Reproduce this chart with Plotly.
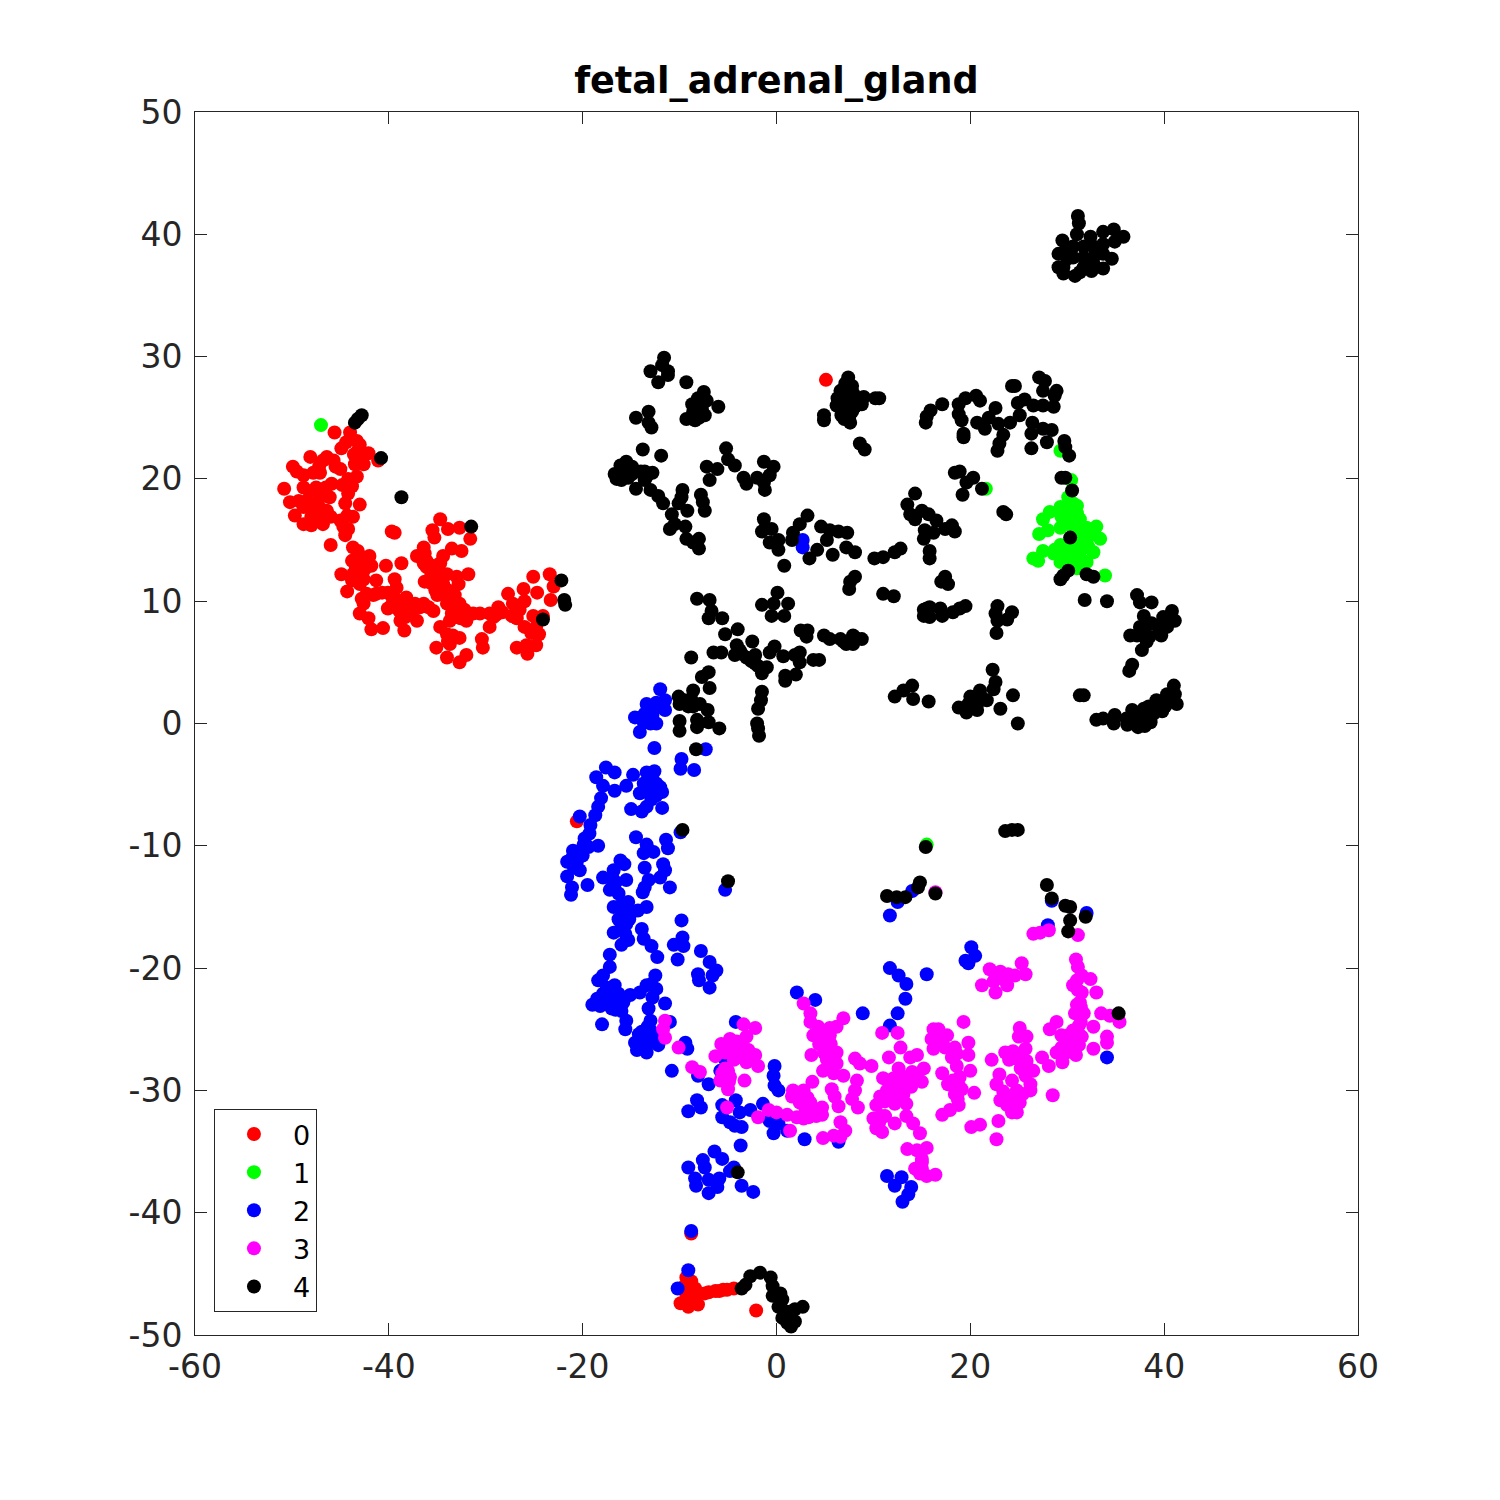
import plotly.graph_objects as go

title = "fetal_adrenal_gland"
x_ticks = [-60, -40, -20, 0, 20, 40, 60]
y_ticks = [-50, -40, -30, -20, -10, 0, 10, 20, 30, 40, 50]
cluster_names = ["0", "1", "2", "3", "4"]
cluster_colors = ["#ff0000", "#00ff00", "#0000ff", "#ff00ff", "#000000"]

cluster_0 = [
    (-50.8, 19.2), (-50.2, 18.1), (-49.9, 21.0), (-49.7, 17.0), (-48.8, 16.3), (-48.0, 16.2), (-46.8, 16.3),
    (-48.1, 21.8), (-46.4, 21.8), (-45.7, 21.5), (-48.8, 20.3), (-48.8, 19.3), (-48.5, 18.2), (-47.8, 17.4),
    (-46.4, 17.4), (-47.1, 18.5), (-47.5, 19.3), (-47.1, 20.5), (-45.9, 19.6), (-46.1, 18.5), (-48.8, 17.7),
    (-45.0, 20.8), (-44.2, 20.0), (-43.3, 20.2), (-44.2, 18.8), (-44.5, 18.0), (-43.0, 17.9), (-43.7, 16.9),
    (-45.0, 16.6), (-44.2, 15.9), (-44.5, 15.4), (-46.0, 14.6), (-45.6, 23.8), (-44.0, 23.8), (-43.3, 23.1),
    (-44.9, 22.5), (-43.2, 22.3), (-42.1, 22.1), (-42.6, 21.2), (-43.5, 21.2), (-41.1, 21.5), (-39.7, 15.7),
    (-39.4, 15.6), (-34.7, 16.7), (-35.5, 15.8), (-35.3, 15.2), (-33.9, 15.9), (-32.7, 16.0), (-31.6, 15.1),
    (-32.5, 14.1), (-33.5, 14.3), (-34.4, 13.7), (-36.4, 14.4), (-37.1, 13.7), (-36.3, 13.9), (-36.4, 13.1),
    (-34.7, 13.1), (-38.7, 13.1), (-43.7, 14.4), (-43.0, 13.7), (-42.0, 13.7), (-43.8, 13.3), (-42.6, 13.1),
    (-41.8, 12.9), (-44.9, 12.2), (-43.7, 12.2), (-43.0, 12.0), (-43.0, 11.4), (-43.8, 11.7), (-41.3, 11.7),
    (-44.3, 10.8), (-40.3, 12.9), (-39.4, 11.8), (-39.2, 11.1), (-42.3, 10.6), (-41.3, 10.6), (-40.1, 10.7),
    (-42.6, 9.8), (-43.0, 9.0), (-42.1, 8.6), (-41.8, 7.7), (-40.6, 7.8), (-40.1, 9.4), (-38.9, 9.2),
    (-39.2, 10.1), (-38.2, 10.3), (-37.8, 9.5), (-38.3, 8.7), (-37.1, 8.4), (-38.4, 7.6), (-36.4, 9.8),
    (-35.4, 9.2), (-36.1, 12.8), (-35.6, 12.2), (-36.3, 11.6), (-35.1, 11.7), (-35.2, 10.9), (-34.4, 11.4),
    (-34.0, 12.2), (-33.0, 12.0), (-31.8, 12.2), (-32.8, 11.4), (-33.2, 10.5), (-34.0, 9.8), (-33.5, 9.0),
    (-33.7, 8.4), (-32.7, 9.8), (-32.0, 8.4), (-31.3, 9.0), (-30.6, 9.0), (-29.6, 9.0), (-28.7, 9.5),
    (-27.7, 10.6), (-27.2, 9.8), (-27.3, 8.8), (-29.2, 8.7), (-29.6, 7.9), (-30.4, 6.9), (-30.3, 6.2),
    (-26.0, 10.0), (-26.1, 11.0), (-25.1, 12.0), (-24.7, 10.7), (-23.4, 12.2), (-23.0, 11.2), (-23.3, 10.1),
    (-25.1, 8.8), (-24.1, 8.8), (-26.0, 7.9), (-24.8, 7.9), (-24.8, 6.4), (-25.8, 6.4), (-26.8, 6.2),
    (-25.7, 5.7), (-34.7, 7.9), (-34.0, 7.3), (-32.7, 7.0), (-33.7, 6.5), (-35.1, 6.2), (-34.0, 5.4),
    (-32.7, 5.0), (-32.0, 5.6), (-20.6, -8.0), (-8.8, -41.7), (-9.3, -45.3), (-8.8, -45.6), (-9.5, -46.0),
    (-8.4, -46.2), (-9.3, -46.7), (-8.4, -46.8), (-9.9, -47.4), (-9.1, -47.7), (-8.1, -47.5), (-8.6, -47.2),
    (-7.4, -46.6), (-7.0, -46.5), (-6.3, -46.4), (-5.9, -46.4), (-5.5, -46.3), (-5.1, -46.3), (-4.4, -46.2),
    (-2.1, -48.0), (5.1, 28.1),
    (-47.8, 20.5), (-48.2, 19.0), (-47.6, 18.0), (-46.9, 17.5), (-46.5, 19.3), (-47.2, 21.0), (-49.3, 18.2),
    (-48.0, 16.9), (-47.2, 16.6), (-46.0, 16.9), (-45.5, 21.0), (-46.8, 21.5), (-49.5, 20.6), (-44.3, 17.0),
    (-44.8, 19.5), (-43.8, 19.4), (-44.7, 16.1), (-43.6, 22.0), (-43.0, 22.8), (-44.4, 23.0), (-42.8, 21.8),
    (-43.0, 13.0), (-42.5, 12.6), (-43.4, 12.7), (-42.3, 13.4), (-43.2, 14.1), (-42.6, 11.8), (-41.6, 10.5),
    (-40.7, 10.7), (-39.7, 10.4), (-42.8, 10.2), (-39.7, 9.7), (-38.7, 9.8), (-38.8, 8.4), (-37.6, 9.2),
    (-37.3, 9.8), (-35.9, 9.5), (-36.8, 9.5), (-34.9, 11.2), (-35.7, 11.5), (-33.9, 10.9), (-33.7, 10.2),
    (-33.3, 9.4), (-32.2, 9.3), (-32.6, 8.6), (-28.9, 8.9), (-28.3, 9.1), (-26.5, 9.3), (-26.8, 8.6),
    (-25.3, 7.4), (-24.5, 7.3), (-33.4, 7.2), (-33.9, 6.7), (-36.1, 13.3), (-35.5, 12.9), (-34.8, 12.5),
    (-35.0, 10.5),
]

cluster_1 = [
    (-47.0, 24.4), (26.5, 13.5), (27.0, 13.3), (27.5, 14.1), (28.7, 14.2), (27.1, 15.5), (28.0, 15.8),
    (27.5, 16.7), (28.2, 17.3), (29.3, 17.7), (31.0, 17.8), (30.1, 18.5), (29.4, 16.9), (30.6, 16.9),
    (31.3, 16.7), (33.0, 16.1), (29.3, 16.0), (31.3, 15.8), (32.7, 15.5), (33.4, 15.1), (32.0, 14.8),
    (31.3, 14.7), (29.3, 14.6), (32.7, 14.0), (31.3, 13.6), (32.0, 13.2), (29.3, 13.2), (30.3, 13.3),
    (31.0, 12.7), (33.9, 12.1), (29.3, 22.3), (30.4, 19.9), (21.6, 19.2), (15.5, -9.9), (30.3, 16.2),
    (30.8, 15.2), (30.3, 14.2), (32.0, 16.0),
    (30.5, 17.3), (31.0, 17.2), (29.8, 17.0), (30.2, 16.5), (31.0, 16.3), (31.8, 15.8), (31.0, 15.4),
    (32.0, 15.2), (31.5, 15.2), (31.6, 14.3), (32.2, 14.4), (30.8, 14.4), (30.4, 13.6), (28.6, 13.9),
    (29.6, 13.6), (30.6, 18.0), (30.4, 17.8),
]

cluster_2 = [
    (-12.0, 2.8), (-13.4, 1.6), (-12.4, 1.7), (-11.5, 1.9), (-11.5, 1.1), (-12.7, 1.1), (-13.6, 0.8),
    (-14.6, 0.5), (-13.7, 0.1), (-12.4, 0.0), (-14.1, -0.7), (-13.0, 0.0), (-12.6, -2.0), (-9.8, -2.9),
    (-9.9, -3.7), (-8.5, -3.8), (-7.3, -2.1), (-17.6, -3.6), (-18.6, -4.4), (-16.7, -4.0), (-17.9, -5.1),
    (-16.7, -5.5), (-15.5, -5.1), (-14.8, -4.2), (-13.4, -4.0), (-12.6, -3.9), (-12.4, -4.9), (-13.7, -4.9),
    (-13.1, -5.7), (-11.8, -5.6), (-14.1, -5.7), (-15.0, -7.0), (-13.9, -7.2), (-13.4, -6.8), (-11.8, -6.9),
    (-18.1, -6.1), (-18.4, -6.8), (-18.7, -7.5), (-19.2, -8.3), (-19.3, -9.0), (-19.8, -9.4), (-20.3, -7.6),
    (-18.4, -10.0), (-19.4, -10.1), (-21.0, -10.4), (-20.0, -10.8), (-21.6, -11.3), (-20.6, -11.3), (-20.3, -12.0),
    (-21.6, -12.5), (-21.1, -13.4), (-21.2, -14.0), (-19.5, -13.2), (-14.5, -9.3), (-13.4, -9.9), (-13.7, -10.6),
    (-12.7, -10.5), (-11.4, -9.5), (-11.2, -10.2), (-11.7, -11.5), (-11.5, -12.0), (-12.0, -12.6), (-13.6, -11.8),
    (-13.2, -12.8), (-13.6, -13.4), (-13.8, -13.8), (-11.0, -13.4), (-9.9, -8.9), (-5.3, -13.6), (-16.1, -11.2),
    (-15.7, -11.5), (-16.8, -12.0), (-17.9, -12.6), (-15.5, -12.8), (-16.8, -12.8), (-17.2, -13.6), (-16.3, -13.9),
    (-16.8, -15.0), (-15.3, -14.6), (-13.4, -15.0), (-14.3, -15.3), (-16.3, -16.0), (-15.1, -15.6), (-15.5, -16.4),
    (-16.8, -17.1), (-15.6, -17.2), (-16.0, -18.1), (-15.3, -17.7), (-13.9, -16.8), (-13.7, -17.6), (-12.9, -18.2),
    (-12.3, -19.1), (-9.8, -16.1), (-9.7, -17.5), (-10.6, -18.1), (-9.6, -18.2), (-10.2, -19.3), (-7.8, -18.6),
    (-6.9, -19.5), (-6.2, -20.2), (-6.6, -20.6), (-8.1, -20.5), (-8.0, -21.0), (-6.9, -21.6), (-17.2, -18.9),
    (-17.2, -19.9), (-17.9, -20.6), (-18.4, -21.0), (-16.7, -21.4), (-17.9, -22.1), (-19.0, -23.0), (-18.2, -23.1),
    (-17.2, -22.4), (-16.5, -22.9), (-15.1, -22.2), (-16.0, -23.5), (-15.5, -24.3), (-15.6, -25.0), (-18.0, -24.6),
    (-13.4, -21.4), (-12.5, -20.6), (-14.1, -22.0), (-12.4, -21.7), (-11.5, -22.9), (-13.2, -23.3), (-13.0, -24.3),
    (-13.0, -25.1), (-11.0, -24.4), (-14.6, -26.1), (-14.4, -26.7), (-13.4, -26.9), (-12.2, -26.3), (-13.4, -25.8),
    (-14.2, -25.4), (-12.4, -25.6), (-9.4, -26.1), (-9.2, -26.6), (-10.8, -28.4), (-4.2, -24.4), (2.1, -22.0),
    (4.0, -22.6), (8.9, -23.7), (11.7, -24.7), (12.5, -23.7), (13.3, -22.5), (13.4, -21.3), (12.6, -20.6),
    (11.7, -20.0), (15.5, -20.5), (20.1, -18.3), (20.5, -19.0), (19.5, -19.4), (19.8, -19.6), (34.1, -27.3),
    (-0.2, -28.0), (-0.3, -28.8), (-0.2, -29.6), (0.2, -30.0), (-7.0, -29.5), (-8.1, -28.8), (-5.8, -28.4),
    (-5.3, -27.5), (-8.2, -30.8), (-7.8, -31.4), (-9.1, -31.7), (-5.6, -31.2), (-4.2, -30.8), (-5.6, -32.2),
    (-4.8, -32.6), (-3.6, -33.0), (-4.3, -32.9), (-3.8, -31.8), (-2.7, -31.6), (-1.4, -31.1), (-0.7, -32.5),
    (0.2, -32.7), (-0.3, -33.5), (1.1, -33.3), (2.9, -34.0), (6.4, -34.2), (-3.7, -34.5), (11.7, -15.7),
    (12.5, -14.6), (14.0, -13.7), (32.0, -15.5), (28.0, -16.5), (28.4, -14.5), (11.4, -37.0), (12.2, -37.8),
    (12.9, -37.1), (13.9, -37.9), (13.6, -38.5), (13.0, -39.1), (-8.8, -41.5), (-9.1, -44.7), (-10.2, -46.2),
    (-9.1, -36.3), (-8.4, -37.2), (-8.3, -37.8), (-7.6, -35.7), (-7.4, -36.3), (-6.4, -35.0), (-5.6, -35.6),
    (-7.0, -37.3), (-7.0, -38.4), (-6.1, -37.9), (-5.9, -37.2), (-4.8, -36.6), (-4.4, -36.3), (-3.6, -37.8),
    (-2.4, -38.3), (2.7, 15.0), (2.7, 14.4),
    (-13.2, -4.6), (-12.8, -5.3), (-13.6, -5.5), (-12.9, -6.2), (-12.4, -5.9), (-12.8, 0.7), (-13.1, 1.3),
    (-13.9, 0.5), (-13.3, 0.5), (-20.6, -10.9), (-20.9, -11.8), (-21.1, -11.0), (-19.9, -9.9), (-15.9, -15.2),
    (-15.6, -15.1), (-16.0, -16.6), (-15.2, -16.0), (-15.7, -15.7), (-16.1, -14.9), (-17.5, -22.9), (-17.5, -21.6),
    (-16.8, -22.2), (-16.3, -22.1), (-18.5, -22.5), (-17.0, -23.3), (-13.9, -26.2), (-13.4, -26.3), (-13.0, -26.0),
    (-13.9, -25.2), (-13.3, -24.8), (-12.9, -21.3), (-12.8, -22.4), (-16.9, -13.3), (-16.6, -13.0), (-12.0, -5.2),
    (-16.6, -23.4), (-15.8, -22.8),
]

cluster_3 = [
    (-11.5, -24.3), (-11.7, -25.0), (-11.5, -25.7), (-10.1, -26.5), (2.8, -22.9), (3.5, -23.7), (3.5, -24.4),
    (4.5, -25.1), (3.8, -25.5), (4.8, -25.9), (6.9, -24.1), (6.2, -24.8), (5.5, -25.5), (5.2, -26.5),
    (6.2, -26.9), (3.6, -27.1), (5.2, -27.5), (6.2, -27.8), (4.8, -28.4), (5.9, -28.6), (6.9, -28.8),
    (3.7, -29.3), (1.7, -30.0), (2.8, -30.0), (1.6, -30.5), (5.7, -29.9), (6.0, -30.5), (6.4, -31.3),
    (2.4, -31.0), (3.5, -31.0), (4.7, -31.4), (4.7, -32.0), (3.3, -32.2), (2.1, -32.2), (1.1, -32.0),
    (0.0, -31.8), (-0.8, -31.6), (-1.9, -32.2), (1.4, -33.3), (6.6, -32.6), (7.1, -33.3), (5.9, -33.7),
    (4.8, -33.9), (6.6, -33.8), (8.1, -27.4), (8.6, -27.8), (9.8, -28.0), (8.3, -29.2), (8.1, -30.0),
    (7.8, -30.7), (8.4, -31.4), (12.8, -26.5), (11.6, -27.3), (10.9, -25.3), (12.5, -25.3), (14.5, -27.1),
    (13.8, -27.3), (15.2, -28.2), (12.6, -28.2), (11.0, -29.0), (13.4, -28.9), (15.0, -29.3), (13.1, -29.5),
    (11.4, -30.0), (13.9, -29.7), (10.7, -30.5), (11.7, -30.5), (13.1, -30.3), (13.4, -31.1), (10.3, -31.2),
    (12.2, -31.1), (10.0, -32.3), (11.2, -32.1), (10.3, -33.1), (10.9, -33.4), (12.2, -32.7), (13.4, -32.1),
    (14.1, -32.7), (14.8, -33.5), (13.5, -34.8), (14.5, -34.9), (15.5, -34.7), (15.0, -35.6), (14.3, -36.4),
    (15.5, -37.0), (16.4, -36.9), (15.0, -36.4), (19.3, -24.4), (16.2, -25.0), (16.7, -25.0), (16.0, -25.8),
    (17.6, -25.5), (16.2, -26.6), (17.4, -26.5), (19.8, -26.1), (18.4, -26.5), (19.8, -27.1), (18.1, -27.3),
    (18.6, -28.0), (17.1, -28.6), (20.0, -28.4), (18.9, -28.9), (17.7, -29.5), (19.1, -29.9), (18.4, -30.3),
    (20.4, -30.2), (18.8, -31.2), (17.9, -31.6), (17.1, -32.0), (20.1, -33.0), (21.0, -32.8), (22.9, -32.5),
    (22.7, -34.0), (25.1, -24.9), (25.0, -25.6), (25.8, -25.6), (25.7, -26.6), (23.6, -26.9), (22.2, -27.5),
    (24.8, -27.4), (27.4, -27.3), (25.8, -27.6), (28.1, -28.0), (26.5, -28.4), (23.0, -28.7), (22.7, -29.5),
    (24.3, -29.2), (26.2, -29.5), (26.2, -30.0), (23.4, -30.1), (24.8, -30.0), (23.1, -30.8), (24.3, -31.0),
    (25.1, -31.0), (24.3, -31.8), (24.8, -31.8), (28.5, -30.4), (32.7, -26.6), (34.1, -25.6), (34.1, -26.1),
    (33.5, -23.7), (34.4, -23.9), (35.4, -24.4), (30.9, -19.3), (31.1, -19.9), (31.5, -20.6), (32.4, -20.9),
    (30.6, -21.4), (31.5, -22.0), (33.0, -22.0), (31.3, -22.8), (30.8, -23.7), (31.7, -23.7), (31.2, -24.7),
    (32.7, -24.8), (28.9, -24.4), (28.2, -25.0), (29.4, -25.5), (30.5, -25.6), (31.5, -25.6), (31.2, -26.3),
    (29.4, -26.5), (28.9, -26.9), (30.9, -27.1), (29.5, -27.7), (30.1, -26.2), (26.5, -17.2), (27.2, -17.1),
    (28.1, -16.9), (31.1, -17.3), (22.0, -20.1), (23.1, -20.3), (23.9, -20.5), (25.3, -19.6), (25.7, -20.5),
    (24.6, -20.6), (21.2, -21.4), (22.4, -21.1), (22.6, -22.0), (23.8, -21.4), (-3.4, -24.6), (-2.2, -24.9),
    (-3.1, -25.6), (-4.8, -25.8), (-5.7, -26.2), (-4.1, -26.0), (-6.3, -27.2), (-5.3, -26.9), (-2.9, -26.7),
    (-2.2, -27.1), (-4.4, -27.5), (-3.1, -27.7), (-1.9, -28.0), (-8.7, -28.1), (-7.9, -28.5), (-5.6, -28.6),
    (-4.8, -28.9), (-3.3, -29.2), (-5.8, -29.2), (-5.0, -29.9), (-5.1, -31.4), (16.4, -13.8),
    (-4.0, -26.8), (-3.6, -27.3), (-4.5, -26.5), (-3.5, -26.2), (5.0, -27.0), (5.6, -27.2), (5.6, -28.0),
    (4.3, -24.8), (4.9, -25.4), (3.0, -31.5), (3.9, -31.6), (4.1, -32.1), (2.8, -32.3), (12.1, -29.0),
    (12.6, -29.5), (11.9, -29.6), (14.0, -28.5), (14.4, -28.9), (12.6, -30.1), (12.4, -30.7), (11.2, -30.9),
    (10.6, -32.6), (10.8, -32.1), (16.6, -25.5), (17.0, -26.0), (18.6, -27.0), (18.8, -29.6), (18.7, -30.7),
    (18.2, -29.2), (24.0, -27.5), (24.4, -26.8), (25.2, -27.0), (25.2, -28.2), (25.7, -28.8), (24.6, -30.5),
    (23.8, -30.6), (23.8, -31.2), (25.4, -30.3), (31.0, -25.1), (30.6, -25.1), (30.1, -25.5), (30.9, -25.9),
    (29.9, -26.9), (31.0, -23.0), (31.4, -23.2), (31.4, -24.4), (31.0, -21.0), (31.1, -21.8), (15.0, -35.9),
    (14.8, -36.8), (23.0, -20.8), (23.5, -20.9), (22.6, -20.6), (-5.3, -28.2), (-5.0, -28.4), (-4.9, -29.3),
    (2.6, -30.5), (3.2, -30.6), (3.8, -31.9), (4.4, -26.2), (5.6, -26.2), (4.9, -26.9), (5.5, -24.9),
]

cluster_4 = [
    (-43.5, 24.6), (-42.8, 25.2), (-43.2, 24.9), (-40.8, 21.7), (-38.7, 18.5), (-31.5, 16.1), (-22.2, 11.7),
    (-21.9, 10.1), (-21.8, 9.7), (-24.1, 8.5), (-8.3, -2.1), (-9.7, -8.7), (-5.0, -12.9), (-4.0, -36.7),
    (-3.6, -46.2), (-3.2, -45.9), (-2.7, -45.2), (-1.7, -44.9), (-0.6, -45.3), (-0.4, -46.0), (-0.4, -46.8),
    (0.4, -46.6), (0.6, -47.1), (0.2, -47.7), (1.1, -48.1), (1.9, -47.9), (2.7, -47.7), (0.6, -48.6),
    (1.5, -49.3), (1.9, -48.9), (1.1, -49.0), (35.3, -23.7), (30.1, -17.0), (11.4, -14.1), (12.4, -14.2),
    (13.3, -14.2), (14.8, -13.0), (14.6, -13.4), (16.4, -13.9), (15.4, -10.1), (23.6, -8.8), (24.3, -8.7),
    (24.9, -8.7), (27.9, -13.2), (28.4, -14.3), (29.8, -14.9), (30.3, -15.0), (30.3, -16.1), (31.9, -15.8),
    (-11.6, 29.9), (-11.8, 29.3), (-13.0, 28.8), (-11.2, 28.8), (-12.2, 27.9), (-11.2, 28.5), (-9.3, 27.9),
    (-7.5, 27.1), (-8.1, 26.6), (-7.2, 26.4), (-8.7, 26.1), (-7.7, 25.7), (-6.0, 25.9), (-8.6, 25.5),
    (-7.4, 25.2), (-9.3, 24.9), (-8.4, 24.8), (-14.5, 25.0), (-13.2, 25.5), (-13.2, 24.6), (-12.9, 24.2),
    (-13.8, 22.4), (-11.9, 21.9), (-15.5, 21.4), (-16.1, 21.1), (-14.9, 21.0), (-16.7, 20.4), (-16.5, 20.0),
    (-15.3, 20.1), (-13.6, 20.6), (-12.8, 20.5), (-13.6, 19.9), (-14.5, 19.2), (-13.0, 19.1), (-12.2, 18.6),
    (-11.7, 18.0), (-9.7, 19.1), (-9.8, 18.5), (-10.1, 18.0), (-7.8, 18.7), (-7.6, 18.1), (-7.4, 17.4),
    (-9.2, 17.4), (-10.8, 17.1), (-10.5, 16.3), (-11.0, 15.9), (-9.4, 16.1), (-9.3, 15.1), (-8.0, 15.1),
    (-8.6, 14.8), (-8.0, 14.3), (-5.2, 22.5), (-5.0, 21.6), (-4.3, 21.1), (-7.2, 21.0), (-6.1, 20.8),
    (-6.9, 19.9), (-3.4, 20.1), (-3.1, 19.6), (-2.0, 20.1), (-1.3, 21.4), (-0.3, 21.0), (-0.7, 20.3),
    (-1.3, 19.7), (-1.2, 19.1), (-1.3, 16.7), (-1.5, 15.7), (-0.5, 15.9), (-0.7, 14.8), (0.2, 15.0),
    (0.2, 14.2), (3.2, 17.0), (2.4, 16.3), (1.7, 15.6), (1.6, 15.0), (4.6, 16.1), (5.5, 15.8), (6.4, 15.7),
    (7.3, 15.6), (5.2, 15.0), (4.2, 14.2), (5.8, 13.8), (3.4, 13.5), (7.2, 14.4), (8.1, 14.0), (0.8, 12.9),
    (10.1, 13.5), (11.0, 13.6), (12.2, 14.0), (12.8, 14.3), (8.1, 12.0), (7.6, 11.6), (7.5, 11.0), (11.0, 10.6),
    (12.1, 10.4), (-8.2, 10.2), (-6.9, 10.1), (-6.7, 9.2), (-7.0, 8.6), (-5.6, 8.6), (0.1, 10.7), (-1.5, 9.7),
    (-0.3, 9.8), (1.2, 9.8), (-0.5, 8.8), (0.8, 8.8), (-4.0, 7.7), (-5.3, 7.3), (-2.5, 6.7), (-4.1, 6.4),
    (-6.5, 5.8), (-5.7, 5.8), (-4.3, 5.6), (-3.1, 5.4), (-2.2, 5.6), (-0.2, 6.3), (-0.7, 5.8), (0.7, 5.5),
    (1.9, 5.6), (2.4, 5.8), (2.4, 5.0), (3.8, 5.2), (4.4, 5.2), (2.5, 7.6), (3.2, 7.6), (3.1, 7.1), (4.9, 7.2),
    (5.5, 6.9), (6.6, 6.9), (7.2, 6.5), (7.9, 7.2), (7.9, 6.5), (8.8, 6.9), (-8.8, 5.4), (-2.2, 4.9),
    (-1.0, 4.6), (-1.5, 4.1), (0.9, 3.9), (2.0, 4.0), (0.9, 3.5), (-7.0, 4.2), (-7.7, 3.8), (-6.9, 2.9),
    (-8.6, 2.7), (-10.1, 2.2), (-10.0, 1.6), (-9.1, 1.4), (-7.9, 1.6), (-7.1, 1.1), (-1.5, 2.6), (-1.6, 1.9),
    (-1.9, 1.2), (-2.0, 0.0), (-1.9, -0.4), (-1.8, -1.0), (-10.0, 0.2), (-10.0, -0.6), (-8.2, 0.3), (-8.2, -0.3),
    (-7.0, 0.1), (-5.9, -0.4), (12.2, 2.2), (7.4, 28.3), (7.1, 27.8), (7.8, 27.6), (6.6, 27.2), (7.9, 27.0),
    (7.2, 26.7), (9.0, 26.7), (10.2, 26.6), (10.6, 26.6), (6.2, 26.0), (7.2, 25.9), (8.8, 26.1), (7.8, 25.5),
    (6.7, 25.2), (7.6, 24.6), (4.9, 25.2), (4.9, 24.8), (8.6, 22.9), (9.1, 22.4), (6.9, 26.4), (7.6, 26.3),
    (17.1, 26.1), (15.9, 25.6), (15.5, 25.1), (15.4, 24.6), (19.5, 26.6), (20.6, 26.8), (21.0, 26.4),
    (18.8, 26.1), (18.8, 25.3), (19.1, 24.8), (20.7, 24.6), (21.5, 24.1), (22.6, 25.8), (21.9, 25.0),
    (22.9, 24.5), (24.1, 24.6), (19.3, 23.7), (19.3, 23.4), (23.4, 23.6), (23.0, 22.9), (22.8, 22.3),
    (24.3, 27.6), (24.6, 27.6), (27.1, 28.3), (27.7, 28.0), (27.5, 27.2), (28.9, 27.2), (28.7, 26.8),
    (25.6, 26.5), (24.9, 26.2), (26.5, 26.0), (27.5, 26.0), (28.6, 25.9), (25.1, 25.2), (26.4, 24.6),
    (26.3, 23.7), (27.5, 24.1), (28.4, 24.0), (27.9, 23.0), (26.3, 22.5), (29.7, 23.1), (29.8, 22.6),
    (30.2, 21.9), (29.4, 20.1), (29.8, 20.1), (30.5, 19.05), (18.9, 20.6), (18.4, 20.5), (20.3, 20.1),
    (19.6, 19.7), (19.2, 18.7), (21.2, 19.2), (23.4, 17.3), (23.7, 17.1), (14.3, 18.8), (13.5, 17.9),
    (13.8, 17.1), (14.3, 16.7), (15.0, 17.4), (15.7, 17.1), (16.5, 16.6), (18.1, 16.2), (18.4, 15.7),
    (17.4, 15.9), (16.2, 15.6), (15.3, 15.8), (15.2, 15.1), (15.8, 14.1), (15.8, 13.5), (17.4, 12.0),
    (17.0, 11.6), (17.7, 11.4), (15.2, 9.3), (15.8, 9.5), (15.2, 8.8), (15.8, 8.7), (16.9, 9.4), (17.1, 8.8),
    (18.2, 9.1), (18.9, 9.4), (19.5, 9.6), (22.8, 9.6), (22.6, 9.0), (24.3, 9.1), (23.8, 8.5), (22.8, 8.4),
    (22.7, 7.4), (22.3, 4.4), (22.6, 3.4), (22.4, 2.8), (21.0, 2.7), (20.0, 2.2), (21.7, 1.9), (20.7, 1.6),
    (18.8, 1.3), (19.6, 0.9), (20.7, 1.1), (23.1, 1.2), (24.4, 2.3), (24.9, 0.0), (14.0, 3.1), (13.1, 2.7),
    (14.1, 2.0), (15.7, 1.8), (31.3, 2.3), (31.7, 2.3), (33.0, 0.3), (33.7, 0.4), (34.9, 0.7), (34.8, 0.0),
    (36.1, 0.4), (37.3, -0.3), (38.0, -0.2), (36.7, 1.1), (37.9, 1.2), (38.9, 0.8), (37.5, 0.5), (39.2, 1.9),
    (40.3, 2.4), (41.1, 2.4), (41.0, 3.1), (41.3, 1.6), (40.1, 1.4), (37.2, 10.5), (37.5, 9.9), (38.7, 9.9),
    (37.9, 8.8), (40.8, 9.2), (41.1, 8.4), (39.9, 8.7), (40.3, 7.9), (38.7, 8.2), (37.5, 7.9), (36.5, 7.2),
    (37.2, 7.2), (39.7, 7.2), (38.5, 7.1), (38.2, 6.7), (37.7, 6.0), (36.7, 4.8), (36.4, 4.3), (31.8, 10.1),
    (34.1, 10.0), (30.3, 15.2), (30.1, 12.5), (29.3, 11.8), (29.6, 12.1), (32.0, 12.2), (32.7, 12.0),
    (31.1, 41.5), (31.2, 40.9), (31.0, 40.0), (29.5, 39.5), (29.1, 38.4), (29.1, 37.3), (29.6, 36.8),
    (30.8, 36.6), (32.5, 37.0), (33.7, 37.2), (34.6, 38.0), (32.4, 39.8), (33.7, 40.2), (34.8, 40.4),
    (35.8, 39.8), (34.9, 39.4), (30.6, 39.0), (31.7, 39.0), (32.7, 39.0), (33.7, 39.2), (30.6, 38.1),
    (31.7, 38.1), (32.7, 38.1), (33.7, 38.4), (31.7, 37.3), (32.7, 37.6), (29.8, 38.7), (30.0, 38.0),
    (29.6, 37.3), (31.3, 36.9),
    (7.1, 27.2), (7.5, 27.5), (6.9, 26.9), (7.4, 26.2), (7.1, 25.5), (7.5, 25.0), (7.0, 24.9), (6.8, 25.6),
    (-7.8, 26.0), (-8.1, 25.6), (-7.5, 26.6), (-8.0, 25.0), (-7.8, 26.4), (-15.5, 20.8), (-15.9, 20.4),
    (-15.7, 21.2), (-13.4, 20.2), (-14.0, 20.6), (37.2, 0.2), (37.8, 0.6), (36.9, 0.0), (38.4, 0.5),
    (39.7, 1.6), (40.5, 1.9), (36.2, -0.1), (39.0, 1.3), (39.9, 8.0), (40.2, 8.4), (39.5, 7.6), (37.8, 7.4),
    (37.9, 7.9), (20.0, 1.4), (20.2, 1.9), (19.8, 1.6), (21.2, 2.1), (20.9, 2.1), (-3.6, 5.7), (-3.8, 6.0),
    (-2.6, 5.1), (-1.9, 4.7), (6.9, 6.7), (7.6, 6.8), (8.2, 7.0), (-8.8, 2.0), (-8.6, 1.4), (-9.5, 1.9),
    (15.5, 9.0), (15.5, 9.4), (38.6, 0.1), (39.8, 1.0), (37.0, 0.9), (38.4, 1.4), (6.3, 26.6), (8.3, 26.5),
    (8.1, 25.9), (-14.9, 20.4), (-16.0, 19.9),
]

clusters = [cluster_0, cluster_1, cluster_2, cluster_3, cluster_4]

fig = go.Figure()
for name, color, points in zip(cluster_names, cluster_colors, clusters):
    xs, ys = zip(*points)
    fig.add_trace(go.Scatter(x=xs, y=ys, mode="markers", name=name,
                             marker=dict(color=color, size=14, line=dict(width=0))))

axis_style = dict(
    showgrid=False, zeroline=False, showline=True, linecolor="#262626", linewidth=1,
    mirror="ticks", ticks="inside", ticklen=12, tickwidth=1, tickcolor="#262626",
    tickfont=dict(family="DejaVu Sans", size=33, color="#262626"),
)
fig.update_xaxes(range=[-60, 60], tickvals=x_ticks, ticktext=[str(v) for v in x_ticks],
                 ticklabelstandoff=2, **axis_style)
fig.update_yaxes(range=[-50, 50], tickvals=y_ticks, ticktext=[str(v) for v in y_ticks],
                 ticklabelstandoff=5, **axis_style)

# the page body adds 8px, so the margins are shifted back by that much
fig.update_layout(
    width=1500, height=1500,
    margin=dict(l=187, r=150, t=104, b=173),
    paper_bgcolor="white", plot_bgcolor="white",
    title=dict(text="<b>" + title + "</b>", x=0.5123, xanchor="center", y=0.9517, yanchor="middle",
               font=dict(family="DejaVu Sans", size=36.6, color="black")),
    legend=dict(x=0.0163, y=0.0188, xanchor="left", yanchor="bottom",
                bgcolor="white", bordercolor="#262626", borderwidth=1, itemwidth=68,
                entrywidth=35, entrywidthmode="pixels",
                font=dict(family="DejaVu Sans", size=27, color="black"), tracegroupgap=0),
)

fig.write_html("out.html")
